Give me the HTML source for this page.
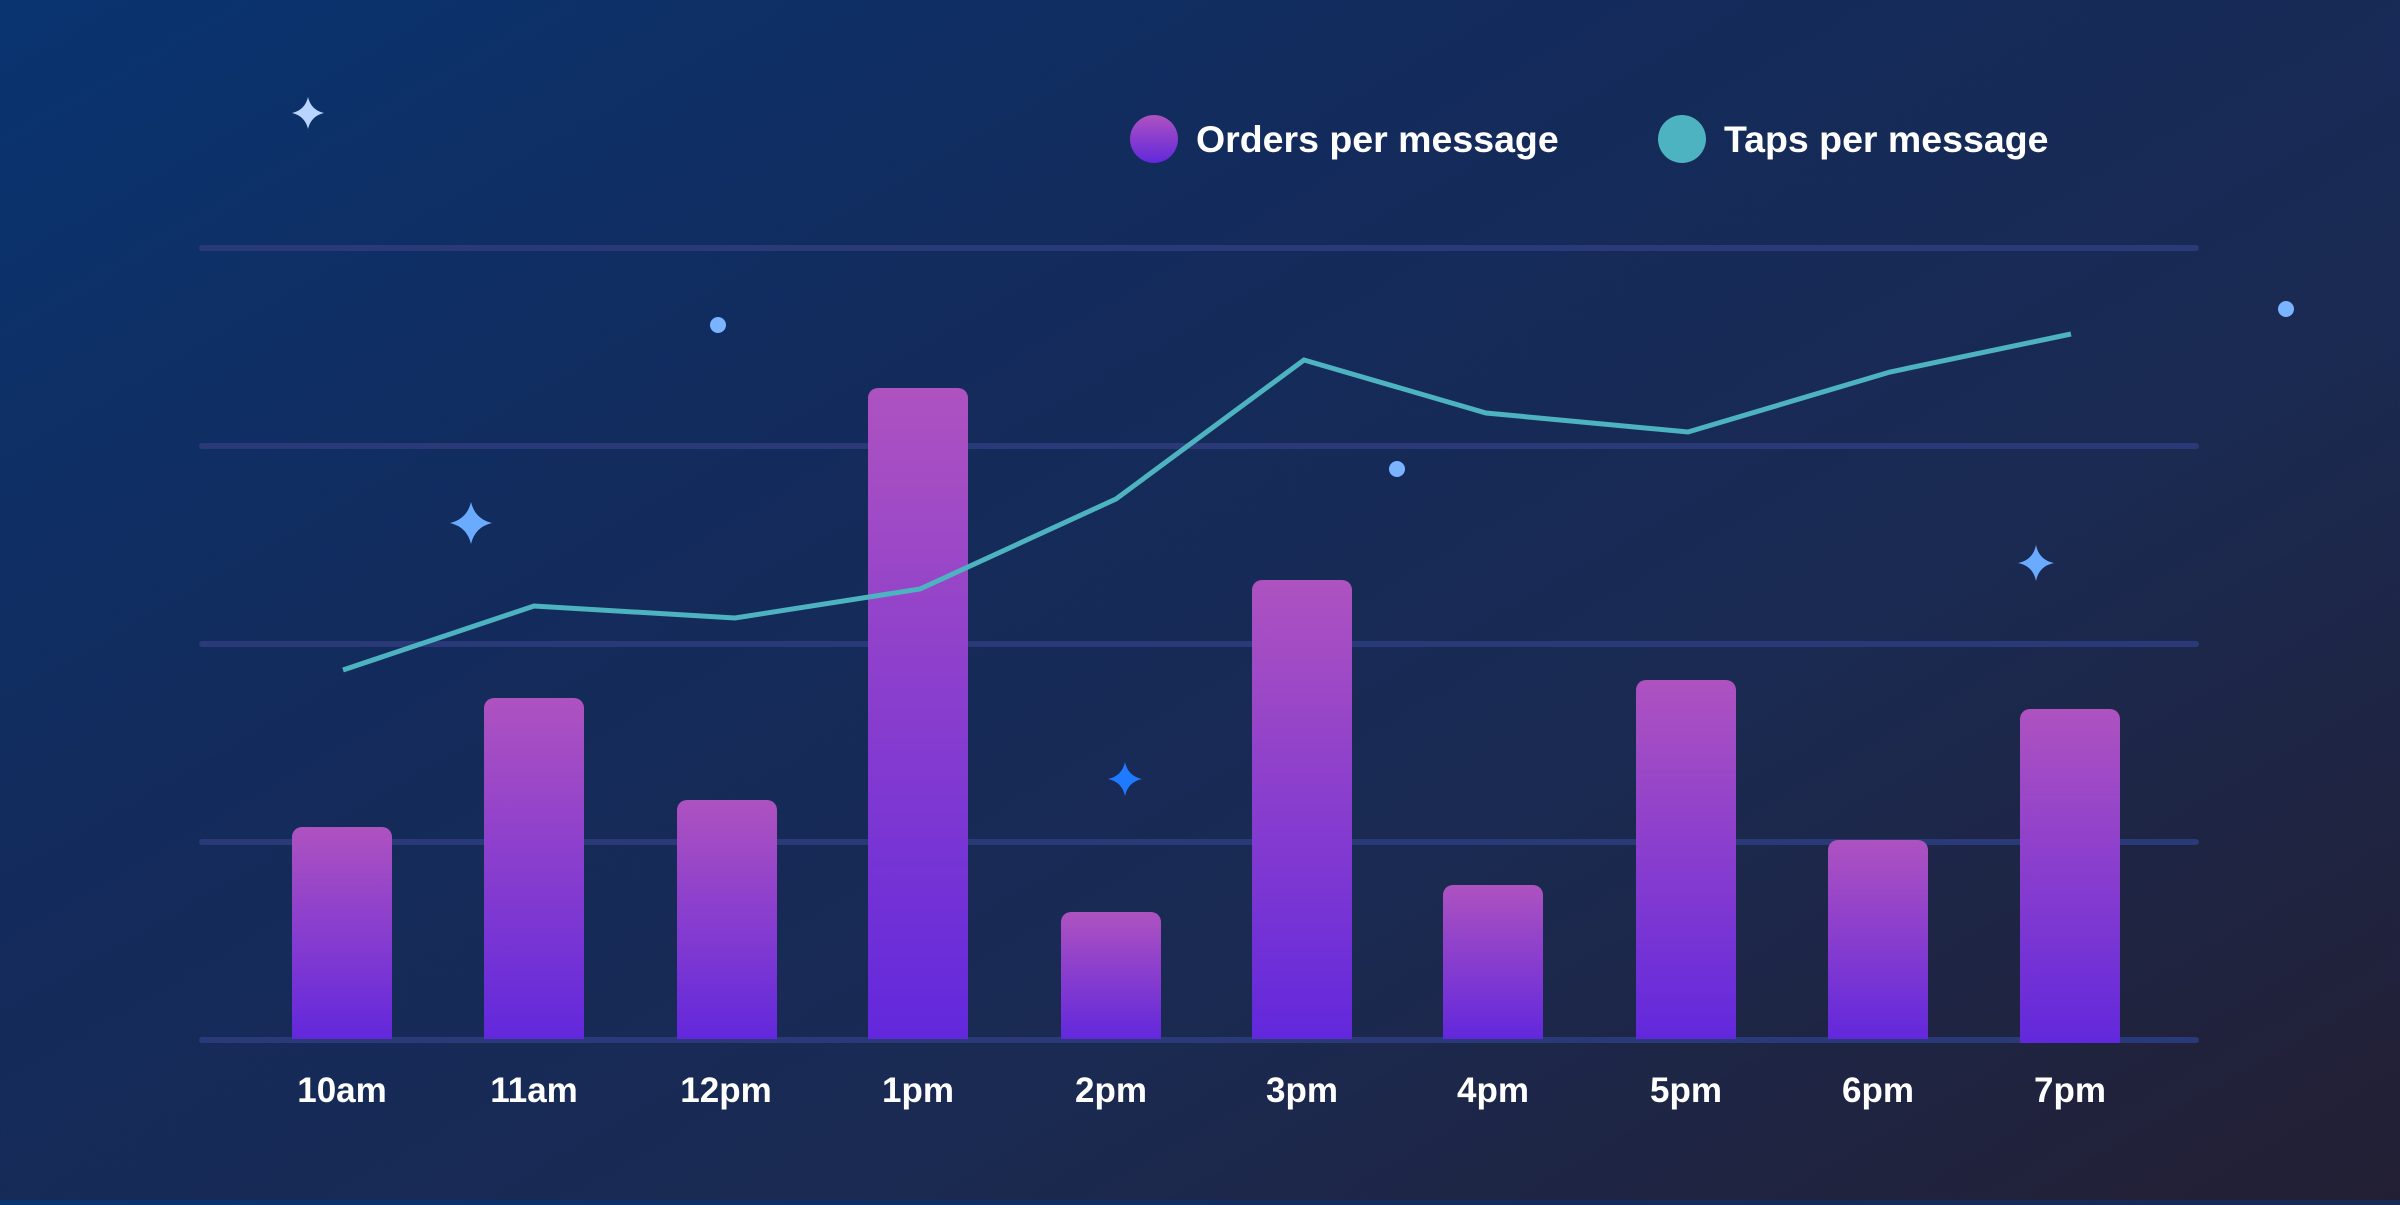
<!DOCTYPE html>
<html><head><style>
html,body{margin:0;padding:0}
body{width:2400px;height:1200px;overflow:hidden;background:linear-gradient(150deg,#093470 0%,#132b5c 35%,#1a2a52 65%,#231f33 100%);font-family:"Liberation Sans",sans-serif}
</style></head><body>
<svg width="2400" height="1200" viewBox="0 0 2400 1200" xmlns="http://www.w3.org/2000/svg">
<defs>
<linearGradient id="bg" x1="0" y1="0" x2="0" y2="1"><stop offset="0" stop-color="#ae52c0"/><stop offset="1" stop-color="#6228dc"/></linearGradient>
</defs>
<g stroke="#2a3a78" stroke-width="6" stroke-linecap="round">
<line x1="202" y1="248" x2="2196" y2="248"/>
<line x1="202" y1="446" x2="2196" y2="446"/>
<line x1="202" y1="644" x2="2196" y2="644"/>
<line x1="202" y1="842" x2="2196" y2="842"/>
<line x1="202" y1="1040" x2="2196" y2="1040"/>
</g>
<g fill="url(#bg)">
<path d="M292,1039 V837 a10,10 0 0 1 10,-10 H382 a10,10 0 0 1 10,10 V1039Z"/>
<path d="M484,1039 V708 a10,10 0 0 1 10,-10 H574 a10,10 0 0 1 10,10 V1039Z"/>
<path d="M677,1039 V810 a10,10 0 0 1 10,-10 H767 a10,10 0 0 1 10,10 V1039Z"/>
<path d="M868,1039 V398 a10,10 0 0 1 10,-10 H958 a10,10 0 0 1 10,10 V1039Z"/>
<path d="M1061,1039 V922 a10,10 0 0 1 10,-10 H1151 a10,10 0 0 1 10,10 V1039Z"/>
<path d="M1252,1039 V590 a10,10 0 0 1 10,-10 H1342 a10,10 0 0 1 10,10 V1039Z"/>
<path d="M1443,1039 V895 a10,10 0 0 1 10,-10 H1533 a10,10 0 0 1 10,10 V1039Z"/>
<path d="M1636,1039 V690 a10,10 0 0 1 10,-10 H1726 a10,10 0 0 1 10,10 V1039Z"/>
<path d="M1828,1039 V850 a10,10 0 0 1 10,-10 H1918 a10,10 0 0 1 10,10 V1039Z"/>
<path d="M2020,1043 V719 a10,10 0 0 1 10,-10 H2110 a10,10 0 0 1 10,10 V1043Z"/>
</g>
<polyline fill="none" stroke="#4db3c0" stroke-width="5" points="343,670 534,606 735,618 920,589 1116,499 1304,360 1486,413 1688,432 1890,372 2071,334"/>
<g fill="#ffffff" font-size="35" font-weight="bold" text-anchor="middle">
<text x="342" y="1102">10am</text><text x="534" y="1102">11am</text><text x="726" y="1102">12pm</text><text x="918" y="1102">1pm</text><text x="1111" y="1102">2pm</text><text x="1302" y="1102">3pm</text><text x="1493" y="1102">4pm</text><text x="1686" y="1102">5pm</text><text x="1878" y="1102">6pm</text><text x="2070" y="1102">7pm</text>
</g>
<circle cx="1154" cy="139" r="24" fill="url(#bg)"/>
<text x="1196" y="152" fill="#fff" font-size="37.5" font-weight="bold">Orders per message</text>
<circle cx="1682" cy="139" r="24" fill="#4db3c0"/>
<text x="1724" y="152" fill="#fff" font-size="37.5" font-weight="bold">Taps per message</text>
<g>
<path d="M308,97 Q311,110 324,113 Q311,116 308,129 Q305,116 292,113 Q305,110 308,97Z" fill="#b8d4ff"/>
<path d="M471,502 Q475,519 492,523 Q475,527 471,544 Q467,527 450,523 Q467,519 471,502Z" fill="#6aaaff"/>
<path d="M1125,762 Q1128,776 1142,779 Q1128,782 1125,796 Q1122,782 1108,779 Q1122,776 1125,762Z" fill="#1e7bff"/>
<path d="M2036,545 Q2039,560 2054,563 Q2039,566 2036,581 Q2033,566 2018,563 Q2033,560 2036,545Z" fill="#6aaaff"/>
<circle cx="718" cy="325" r="8" fill="#7ab3ff"/>
<circle cx="1397" cy="469" r="8" fill="#7ab3ff"/>
<circle cx="2286" cy="309" r="8" fill="#7ab3ff"/>
</g>
</svg>
</body></html>
